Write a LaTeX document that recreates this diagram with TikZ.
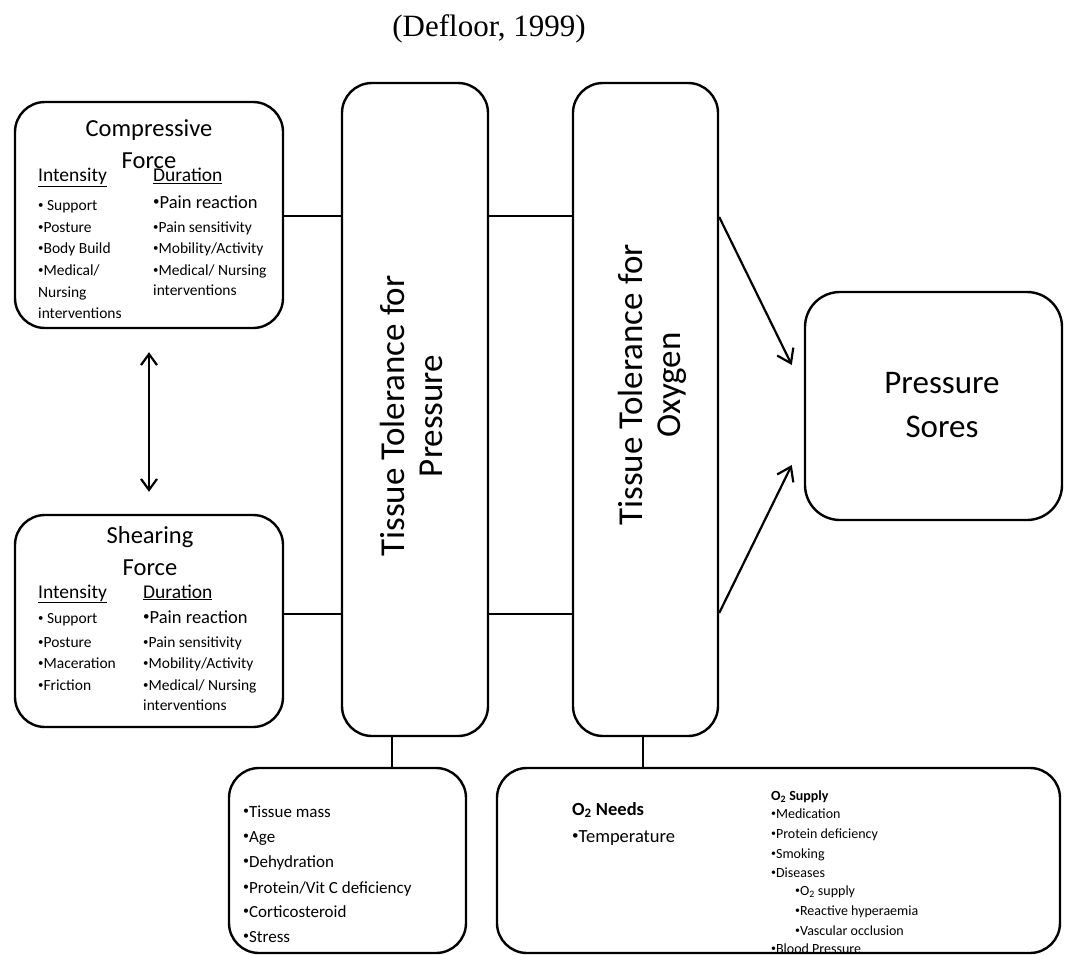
\documentclass[tikz,border=0pt]{standalone}
\usepackage{fontspec}
\setmainfont{Carlito}
\newfontfamily\timesfont{Liberation Serif}
\usetikzlibrary{arrows.meta}
\newcommand\fsz[2]{\fontsize{#1}{#2}\selectfont}
\newcommand\bul{\raisebox{0.12em}{\scalebox{0.7}{•}}}
\begin{document}
\begin{tikzpicture}[x=1pt,y=-1pt,
  box/.style={draw, line width=2.4pt, rounded corners=30pt, inner sep=0pt},
  conn/.style={line width=2.4pt},
  arr/.style={line width=2.2pt, -{Straight Barb[length=13pt,width=18pt,line width=2.2pt]}},
  dblarr/.style={line width=2.2pt, {Straight Barb[length=11pt,width=16pt,line width=2.2pt]}-{Straight Barb[length=11pt,width=16pt,line width=2.2pt]}},
  t/.style={inner sep=0pt, anchor=base west},
  tc/.style={inner sep=0pt, anchor=base},
  head/.style={tc, font=\fsz{24.5}{28}},
  sub/.style={t, font=\fsz{19.5}{22}},
  item/.style={t, font=\fsz{15.5}{18}},
  big/.style={t, font=\fsz{18.5}{21}},
  small/.style={t, font=\fsz{14}{16}}]
\useasboundingbox (0,0) rectangle (1071,955);

% title
\node[inner sep=0pt, anchor=base, font=\timesfont\fsz{31}{35}] (title) at (489,37) {(Defloor, 1999)};

% boxes
\node[box, minimum width=268pt, minimum height=226pt] (comp) at (149,215) {};
\node[box, minimum width=268pt, minimum height=212pt] (shear) at (149,621) {};
\node[box, minimum width=146pt, minimum height=653pt] (p1) at (415,409.5) {};
\node[box, minimum width=145pt, minimum height=653pt] (p2) at (645.5,409.5) {};
\node[box, rounded corners=35pt, minimum width=257pt, minimum height=228pt] (sores) at (933.5,406) {};
\node[box, minimum width=237pt, minimum height=185pt] (bl) at (347.5,860.5) {};
\node[box, minimum width=563pt, minimum height=185pt] (br) at (778.5,860.5) {};

% compressive force text
\node[head] (ct1) at (149,137) {Compressive};
\node[head] (ct2) at (149,168) {Force};
\node[sub] (ci) at (38,182) {\underline{Intensity}};
\node[sub] (cd) at (153,182) {\underline{Duration}};
\node[item] (ci1) at (38,210) {\bul\ Support};
\node[item] (ci2) at (38,232) {\bul Posture};
\node[item] (ci3) at (38,253) {\bul Body Build};
\node[item] (ci4) at (38,275) {\bul Medical/};
\node[item] (ci5) at (38,297) {Nursing};
\node[item] (ci6) at (38,318) {interventions};
\node[big] (cd1) at (153,208) {\bul Pain reaction};
\node[item] (cd2) at (153,232) {\bul Pain sensitivity};
\node[item] (cd3) at (153,253) {\bul Mobility/Activity};
\node[item] (cd4) at (153,275) {\bul Medical/ Nursing};
\node[item] (cd5) at (153,295) {interventions};

% shearing force text
\node[head] (st1) at (150,543) {Shearing};
\node[head] (st2) at (150,575) {Force};
\node[sub] (si) at (38,598) {\underline{Intensity}};
\node[sub] (sd) at (143,598) {\underline{Duration}};
\node[item] (si1) at (38,623) {\bul\ Support};
\node[item] (si2) at (38,647) {\bul Posture};
\node[item] (si3) at (38,668) {\bul Maceration};
\node[item] (si4) at (38,690) {\bul Friction};
\node[big] (sd1) at (143,623) {\bul Pain reaction};
\node[item] (sd2) at (143,647) {\bul Pain sensitivity};
\node[item] (sd3) at (143,668) {\bul Mobility/Activity};
\node[item] (sd4) at (143,690) {\bul Medical/ Nursing};
\node[item] (sd5) at (143,710) {interventions};

% tall boxes text
\node[rotate=90, align=center, inner sep=0pt, font=\fsz{35}{38}] (p1t) at (411,416) {Tissue Tolerance for\\Pressure};
\node[rotate=90, align=center, inner sep=0pt, font=\fsz{35}{38}] (p2t) at (652,385) {Tissue Tolerance for\\Oxygen};

% pressure sores
\node[tc, font=\fsz{33}{38}] (ps1) at (942,393) {Pressure};
\node[tc, font=\fsz{33}{38}] (ps2) at (942,437) {Sores};

% bottom left
\node[item, font=\fsz{17}{20}] (b1) at (243,817) {\bul Tissue mass};
\node[item, font=\fsz{17}{20}] (b2) at (243,842) {\bul Age};
\node[item, font=\fsz{17}{20}] (b3) at (243,867) {\bul Dehydration};
\node[item, font=\fsz{17}{20}] (b4) at (243,893) {\bul Protein/Vit C deficiency};
\node[item, font=\fsz{17}{20}] (b5) at (243,917) {\bul Corticosteroid};
\node[item, font=\fsz{17}{20}] (b6) at (243,942) {\bul Stress};

% bottom right
\node[big, font=\bfseries\fsz{18.5}{21}] (n1) at (572,815) {O\textsubscript{2} Needs};
\node[big] (n2) at (572,842) {\bul Temperature};
\node[small, font=\bfseries\fsz{14}{16}] (o0) at (771,800) {O\textsubscript{2} Supply};
\node[small] (o1) at (771,818) {\bul Medication};
\node[small] (o2) at (771,838) {\bul Protein deficiency};
\node[small] (o3) at (771,858) {\bul Smoking};
\node[small] (o4) at (771,877) {\bul Diseases};
\node[small] (o5) at (795,895) {\bul O\textsubscript{2} supply};
\node[small] (o6) at (795,915) {\bul Reactive hyperaemia};
\node[small] (o7) at (795,935) {\bul Vascular occlusion};
\node[small] (o8) at (771,953) {\bul Blood Pressure};

% connectors
\draw[conn] ([yshift=-1pt]comp.east) -- ([yshift=-1pt]comp.east -| p1.west);
\draw[conn] ([yshift=-1pt]comp.east -| p1.east) -- ([yshift=-1pt]comp.east -| p2.west);
\draw[conn] ([yshift=7pt]shear.east) -- ([yshift=7pt]shear.east -| p1.west);
\draw[conn] ([yshift=7pt]shear.east -| p1.east) -- ([yshift=7pt]shear.east -| p2.west);
\draw[conn] ([xshift=-23pt]p1.south) -- ([xshift=-23pt]p1.south |- bl.north);
\draw[conn] ([xshift=-2.5pt]p2.south) -- ([xshift=-2.5pt]p2.south |- br.north);
\draw[arr] ([yshift=-2pt]comp.east -| p2.east) -- ([shift={(-12pt,41pt)}]sores.west);
\draw[arr] ([yshift=8pt]shear.east -| p2.east) -- ([shift={(-12pt,-59pt)}]sores.west);
\draw[dblarr] ([yshift=-23pt]comp.south) -- ([yshift=22pt]shear.north);
\end{tikzpicture}
\end{document}
